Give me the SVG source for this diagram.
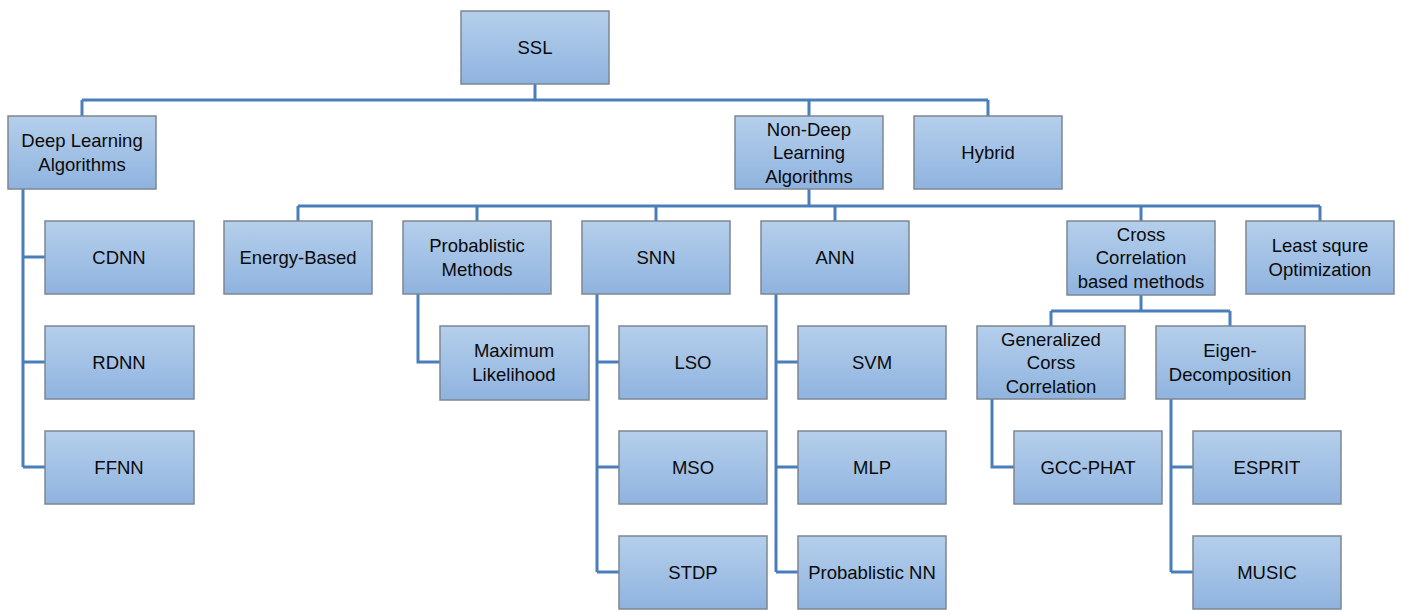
<svg xmlns="http://www.w3.org/2000/svg" width="1402" height="611" viewBox="0 0 1402 611">
  <defs>
    <linearGradient id="boxFill" x1="0" y1="0" x2="0" y2="1">
      <stop offset="0" stop-color="#b5cfeb"/>
      <stop offset="1" stop-color="#8fb3df"/>
    </linearGradient>
  </defs>
  <style>
    .box { fill: url(#boxFill); stroke: #7d8791; stroke-width: 1.5; }
    .lbl { font-family: "Liberation Sans", Arial, sans-serif; font-size: 18.5px; fill: #0a0a0a; text-anchor: middle; }
    .link { fill: none; stroke: #4a7ebb; stroke-width: 3; }
  </style>
  <rect width="1402" height="611" fill="#ffffff"/>

  <!-- connectors -->
  <g id="connectors">
    <path class="link" d="M535 84 V100 M82 100 H988 M82 100 V116 M809 100 V116 M988 100 V116"/>
    <path class="link" d="M23 189 V467 M23 257 H45 M23 362 H45 M23 467 H45"/>
    <path class="link" d="M809 189 V206 M298 206 H1320 M298 206 V221 M477 206 V221 M656 206 V221 M835 206 V221 M1141 206 V221 M1320 206 V221"/>
    <path class="link" d="M418 294 V362 H440"/>
    <path class="link" d="M597 294 V572 M597 362 H619 M597 467 H619 M597 572 H619"/>
    <path class="link" d="M776 294 V572 M776 362 H798 M776 467 H798 M776 572 H798"/>
    <path class="link" d="M1141 295 V311 M1051 311 H1230 M1051 311 V326 M1230 311 V326"/>
    <path class="link" d="M992 399 V467 H1014"/>
    <path class="link" d="M1171 399 V572 M1171 467 H1193 M1171 572 H1193"/>
  </g>

  <!-- root -->
  <g id="ssl"><rect class="box" x="461" y="11" width="148" height="73"/><text class="lbl" x="535" y="54">SSL</text></g>

  <!-- first level -->
  <g id="deep-learning"><rect class="box" x="8" y="116" width="148" height="73"/><text class="lbl" x="82" y="147">Deep Learning</text><text class="lbl" x="82" y="171">Algorithms</text></g>
  <g id="non-deep-learning"><rect class="box" x="735" y="116" width="148" height="73"/><text class="lbl" x="809" y="136">Non-Deep</text><text class="lbl" x="809" y="159">Learning</text><text class="lbl" x="809" y="183">Algorithms</text></g>
  <g id="hybrid"><rect class="box" x="914" y="116" width="148" height="73"/><text class="lbl" x="988" y="159">Hybrid</text></g>

  <!-- deep learning children -->
  <g id="cdnn"><rect class="box" x="45" y="221" width="149" height="73"/><text class="lbl" x="119" y="264">CDNN</text></g>
  <g id="rdnn"><rect class="box" x="45" y="326" width="149" height="73"/><text class="lbl" x="119" y="369">RDNN</text></g>
  <g id="ffnn"><rect class="box" x="45" y="431" width="149" height="73"/><text class="lbl" x="119" y="474">FFNN</text></g>

  <!-- non-deep children -->
  <g id="energy-based"><rect class="box" x="224" y="221" width="148" height="73"/><text class="lbl" x="298" y="264">Energy-Based</text></g>
  <g id="probablistic-methods"><rect class="box" x="403" y="221" width="148" height="73"/><text class="lbl" x="477" y="252">Probablistic</text><text class="lbl" x="477" y="276">Methods</text></g>
  <g id="snn"><rect class="box" x="582" y="221" width="148" height="73"/><text class="lbl" x="656" y="264">SNN</text></g>
  <g id="ann"><rect class="box" x="761" y="221" width="148" height="73"/><text class="lbl" x="835" y="264">ANN</text></g>
  <g id="cross-correlation"><rect class="box" x="1067" y="221" width="148" height="74"/><text class="lbl" x="1141" y="241">Cross</text><text class="lbl" x="1141" y="264">Correlation</text><text class="lbl" x="1141" y="288">based methods</text></g>
  <g id="least-square"><rect class="box" x="1246" y="221" width="148" height="73"/><text class="lbl" x="1320" y="252">Least squre</text><text class="lbl" x="1320" y="276">Optimization</text></g>

  <!-- third level -->
  <g id="maximum-likelihood"><rect class="box" x="440" y="326" width="149" height="74"/><text class="lbl" x="514" y="357">Maximum</text><text class="lbl" x="514" y="381">Likelihood</text></g>
  <g id="lso"><rect class="box" x="619" y="326" width="148" height="73"/><text class="lbl" x="693" y="369">LSO</text></g>
  <g id="mso"><rect class="box" x="619" y="431" width="148" height="73"/><text class="lbl" x="693" y="474">MSO</text></g>
  <g id="stdp"><rect class="box" x="619" y="536" width="148" height="73"/><text class="lbl" x="693" y="579">STDP</text></g>
  <g id="svm"><rect class="box" x="798" y="326" width="148" height="73"/><text class="lbl" x="872" y="369">SVM</text></g>
  <g id="mlp"><rect class="box" x="798" y="431" width="148" height="73"/><text class="lbl" x="872" y="474">MLP</text></g>
  <g id="probablistic-nn"><rect class="box" x="798" y="536" width="148" height="73"/><text class="lbl" x="872" y="579">Probablistic NN</text></g>
  <g id="generalized-cc"><rect class="box" x="977" y="326" width="148" height="73"/><text class="lbl" x="1051" y="346">Generalized</text><text class="lbl" x="1051" y="369">Corss</text><text class="lbl" x="1051" y="393">Correlation</text></g>
  <g id="eigen-decomposition"><rect class="box" x="1156" y="326" width="149" height="73"/><text class="lbl" x="1230" y="357">Eigen-</text><text class="lbl" x="1230" y="381">Decomposition</text></g>
  <g id="gcc-phat"><rect class="box" x="1014" y="431" width="148" height="73"/><text class="lbl" x="1088" y="474">GCC-PHAT</text></g>
  <g id="esprit"><rect class="box" x="1193" y="431" width="148" height="73"/><text class="lbl" x="1267" y="474">ESPRIT</text></g>
  <g id="music"><rect class="box" x="1193" y="536" width="148" height="73"/><text class="lbl" x="1267" y="579">MUSIC</text></g>
</svg>
